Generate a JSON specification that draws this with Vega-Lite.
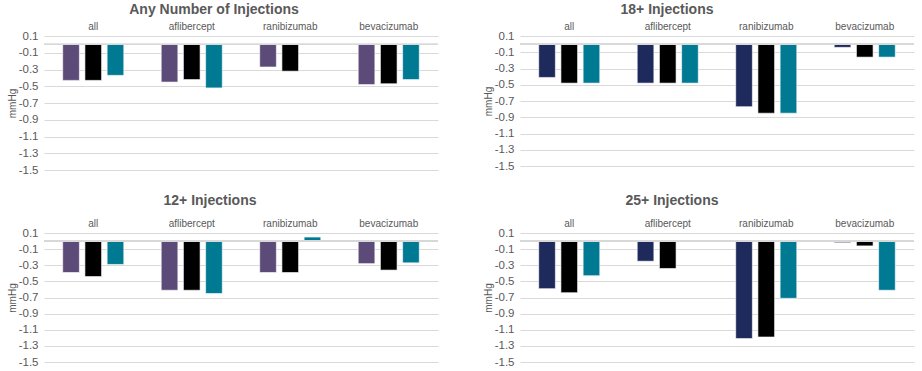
{
  "$schema": "https://vega.github.io/schema/vega-lite/v6.json",
  "padding": {"left": 7, "top": 3, "right": 3, "bottom": 2},
  "background": "white",
  "data": {"values": [
    {"panel": "any", "group": "all", "series": "s1", "value": -0.43},
    {"panel": "any", "group": "all", "series": "s2", "value": -0.43},
    {"panel": "any", "group": "all", "series": "s3", "value": -0.37},
    {"panel": "any", "group": "aflibercept", "series": "s1", "value": -0.45},
    {"panel": "any", "group": "aflibercept", "series": "s2", "value": -0.42},
    {"panel": "any", "group": "aflibercept", "series": "s3", "value": -0.52},
    {"panel": "any", "group": "ranibizumab", "series": "s1", "value": -0.27},
    {"panel": "any", "group": "ranibizumab", "series": "s2", "value": -0.32},
    {"panel": "any", "group": "bevacizumab", "series": "s1", "value": -0.48},
    {"panel": "any", "group": "bevacizumab", "series": "s2", "value": -0.47},
    {"panel": "any", "group": "bevacizumab", "series": "s3", "value": -0.42},
    {"panel": "18", "group": "all", "series": "s1", "value": -0.41},
    {"panel": "18", "group": "all", "series": "s2", "value": -0.48},
    {"panel": "18", "group": "all", "series": "s3", "value": -0.48},
    {"panel": "18", "group": "aflibercept", "series": "s1", "value": -0.48},
    {"panel": "18", "group": "aflibercept", "series": "s2", "value": -0.48},
    {"panel": "18", "group": "aflibercept", "series": "s3", "value": -0.48},
    {"panel": "18", "group": "ranibizumab", "series": "s1", "value": -0.77},
    {"panel": "18", "group": "ranibizumab", "series": "s2", "value": -0.85},
    {"panel": "18", "group": "ranibizumab", "series": "s3", "value": -0.85},
    {"panel": "18", "group": "bevacizumab", "series": "s1", "value": -0.04},
    {"panel": "18", "group": "bevacizumab", "series": "s2", "value": -0.16},
    {"panel": "18", "group": "bevacizumab", "series": "s3", "value": -0.16},
    {"panel": "12", "group": "all", "series": "s1", "value": -0.39},
    {"panel": "12", "group": "all", "series": "s2", "value": -0.44},
    {"panel": "12", "group": "all", "series": "s3", "value": -0.29},
    {"panel": "12", "group": "aflibercept", "series": "s1", "value": -0.61},
    {"panel": "12", "group": "aflibercept", "series": "s2", "value": -0.61},
    {"panel": "12", "group": "aflibercept", "series": "s3", "value": -0.65},
    {"panel": "12", "group": "ranibizumab", "series": "s1", "value": -0.39},
    {"panel": "12", "group": "ranibizumab", "series": "s2", "value": -0.39},
    {"panel": "12", "group": "ranibizumab", "series": "s3", "value": 0.05},
    {"panel": "12", "group": "bevacizumab", "series": "s1", "value": -0.28},
    {"panel": "12", "group": "bevacizumab", "series": "s2", "value": -0.36},
    {"panel": "12", "group": "bevacizumab", "series": "s3", "value": -0.27},
    {"panel": "25", "group": "all", "series": "s1", "value": -0.59},
    {"panel": "25", "group": "all", "series": "s2", "value": -0.64},
    {"panel": "25", "group": "all", "series": "s3", "value": -0.43},
    {"panel": "25", "group": "aflibercept", "series": "s1", "value": -0.25},
    {"panel": "25", "group": "aflibercept", "series": "s2", "value": -0.34},
    {"panel": "25", "group": "ranibizumab", "series": "s1", "value": -1.21},
    {"panel": "25", "group": "ranibizumab", "series": "s2", "value": -1.19},
    {"panel": "25", "group": "ranibizumab", "series": "s3", "value": -0.71},
    {"panel": "25", "group": "bevacizumab", "series": "s1", "value": -0.02},
    {"panel": "25", "group": "bevacizumab", "series": "s2", "value": -0.06},
    {"panel": "25", "group": "bevacizumab", "series": "s3", "value": -0.61}
  ]},
  "resolve": {"scale": {"color": "independent"}},
  "vconcat": [
    {"hconcat": [
      {
        "width": 394, "height": 134,
        "title": {"text": "Any Number of Injections", "frame": "group", "dx": -27, "offset": 4},
        "transform": [{"filter": "datum.panel == 'any'"}],
        "layer": [
          {"mark": {"type": "bar", "stroke": "white", "strokeWidth": 0.6},
           "encoding": {
             "x": {"field": "group", "type": "nominal", "sort": ["all", "aflibercept", "ranibizumab", "bevacizumab"], "title": null, "scale": {"paddingInner": 0.38, "paddingOuter": 0.19}, "axis": {"orient": "top", "labelAngle": 0, "ticks": false, "domain": false, "labelPadding": 5}},
             "xOffset": {"field": "series", "type": "nominal", "sort": ["s1", "s2", "s3"], "scale": {"paddingInner": 0.25}},
             "y": {"field": "value", "type": "quantitative", "scale": {"domain": [-1.5, 0.1], "nice": false, "zero": false}, "title": "mmHg", "axis": {"values": [0.1, -0.1, -0.3, -0.5, -0.7, -0.9, -1.1, -1.3, -1.5], "tickCount": 20, "labelExpr": "'' + datum.value", "ticks": false, "domain": false, "grid": true, "labelOverlap": false}},
             "color": {"field": "series", "type": "nominal", "scale": {"domain": ["s1", "s2", "s3"], "range": ["#5c4a79", "#000000", "#007993"]}, "legend": null}
           }},
          {"mark": {"type": "rule", "color": "#d9d9d9", "strokeWidth": 1}, "encoding": {"y": {"datum": 0, "type": "quantitative"}}}
        ]
      },
      {
        "width": 394, "height": 130,
        "title": {"text": "18+ Injections", "frame": "group", "dx": -50, "offset": 4},
        "transform": [{"filter": "datum.panel == '18'"}],
        "layer": [
          {"mark": {"type": "bar", "stroke": "white", "strokeWidth": 0.6},
           "encoding": {
             "x": {"field": "group", "type": "nominal", "sort": ["all", "aflibercept", "ranibizumab", "bevacizumab"], "title": null, "scale": {"paddingInner": 0.38, "paddingOuter": 0.19}, "axis": {"orient": "top", "labelAngle": 0, "ticks": false, "domain": false, "labelPadding": 5}},
             "xOffset": {"field": "series", "type": "nominal", "sort": ["s1", "s2", "s3"], "scale": {"paddingInner": 0.25}},
             "y": {"field": "value", "type": "quantitative", "scale": {"domain": [-1.5, 0.1], "nice": false, "zero": false}, "title": "mmHg", "axis": {"values": [0.1, -0.1, -0.3, -0.5, -0.7, -0.9, -1.1, -1.3, -1.5], "tickCount": 20, "labelExpr": "'' + datum.value", "ticks": false, "domain": false, "grid": true, "labelOverlap": false}},
             "color": {"field": "series", "type": "nominal", "scale": {"domain": ["s1", "s2", "s3"], "range": ["#1f2a5c", "#000000", "#007993"]}, "legend": null}
           }},
          {"mark": {"type": "rule", "color": "#d9d9d9", "strokeWidth": 1}, "encoding": {"y": {"datum": 0, "type": "quantitative"}}}
        ]
      }
    ], "resolve": {"scale": {"color": "independent"}}},
    {"hconcat": [
      {
        "width": 394, "height": 129,
        "title": {"text": "12+ Injections", "frame": "group", "dx": -31, "offset": 10},
        "transform": [{"filter": "datum.panel == '12'"}],
        "layer": [
          {"mark": {"type": "bar", "stroke": "white", "strokeWidth": 0.6},
           "encoding": {
             "x": {"field": "group", "type": "nominal", "sort": ["all", "aflibercept", "ranibizumab", "bevacizumab"], "title": null, "scale": {"paddingInner": 0.38, "paddingOuter": 0.19}, "axis": {"orient": "top", "labelAngle": 0, "ticks": false, "domain": false, "labelPadding": 5}},
             "xOffset": {"field": "series", "type": "nominal", "sort": ["s1", "s2", "s3"], "scale": {"paddingInner": 0.25}},
             "y": {"field": "value", "type": "quantitative", "scale": {"domain": [-1.5, 0.1], "nice": false, "zero": false}, "title": "mmHg", "axis": {"values": [0.1, -0.1, -0.3, -0.5, -0.7, -0.9, -1.1, -1.3, -1.5], "tickCount": 20, "labelExpr": "'' + datum.value", "ticks": false, "domain": false, "grid": true, "labelOverlap": false}},
             "color": {"field": "series", "type": "nominal", "scale": {"domain": ["s1", "s2", "s3"], "range": ["#5c4a79", "#000000", "#007993"]}, "legend": null}
           }},
          {"mark": {"type": "rule", "color": "#d9d9d9", "strokeWidth": 1}, "encoding": {"y": {"datum": 0, "type": "quantitative"}}}
        ]
      },
      {
        "width": 394, "height": 129,
        "title": {"text": "25+ Injections", "frame": "group", "dx": -45, "offset": 10},
        "transform": [{"filter": "datum.panel == '25'"}],
        "layer": [
          {"mark": {"type": "bar", "stroke": "white", "strokeWidth": 0.6},
           "encoding": {
             "x": {"field": "group", "type": "nominal", "sort": ["all", "aflibercept", "ranibizumab", "bevacizumab"], "title": null, "scale": {"paddingInner": 0.38, "paddingOuter": 0.19}, "axis": {"orient": "top", "labelAngle": 0, "ticks": false, "domain": false, "labelPadding": 5}},
             "xOffset": {"field": "series", "type": "nominal", "sort": ["s1", "s2", "s3"], "scale": {"paddingInner": 0.25}},
             "y": {"field": "value", "type": "quantitative", "scale": {"domain": [-1.5, 0.1], "nice": false, "zero": false}, "title": "mmHg", "axis": {"values": [0.1, -0.1, -0.3, -0.5, -0.7, -0.9, -1.1, -1.3, -1.5], "tickCount": 20, "labelExpr": "'' + datum.value", "ticks": false, "domain": false, "grid": true, "labelOverlap": false}},
             "color": {"field": "series", "type": "nominal", "scale": {"domain": ["s1", "s2", "s3"], "range": ["#1f2a5c", "#000000", "#007993"]}, "legend": null}
           }},
          {"mark": {"type": "rule", "color": "#d9d9d9", "strokeWidth": 1}, "encoding": {"y": {"datum": 0, "type": "quantitative"}}}
        ]
      }
    ], "resolve": {"scale": {"color": "independent"}}}
  ],
  "spacing": 18,
  "config": {
    "font": "Liberation Sans",
    "view": {"stroke": null},
    "concat": {"spacing": 44},
    "title": {"fontSize": 14, "fontWeight": "bold", "color": "#595959", "font": "Liberation Sans"},
    "axis": {"labelFont": "Liberation Sans", "labelColor": "#595959", "labelFontSize": 11.5, "titleFont": "Liberation Sans", "titleColor": "#595959", "titleFontSize": 10, "titleFontWeight": "normal", "gridColor": "#d9d9d9", "labelPadding": 6, "titlePadding": 1},
    "axisX": {"labelFontSize": 10, "labelPadding": 5}
  }
}
